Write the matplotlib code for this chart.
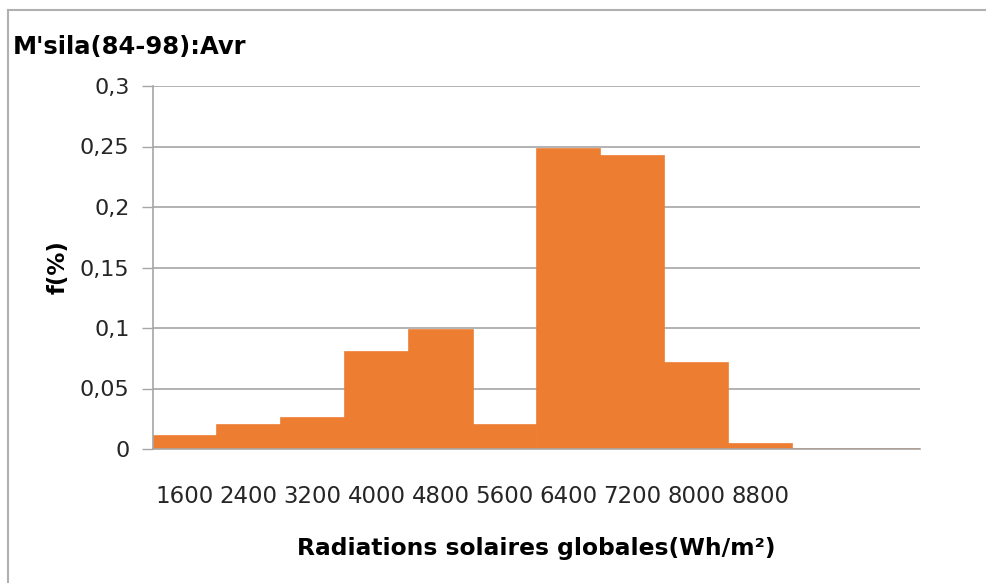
import matplotlib.pyplot as plt
from matplotlib.lines import Line2D

# Fréquences des radiations solaires globales, M'sila (84-98), avril
classes = ["1600", "2400", "3200", "4000", "4800", "5600", "6400", "7200", "8000", "8800", "", ""]
freq = [0.011, 0.020, 0.026, 0.080, 0.098, 0.020, 0.248, 0.242, 0.071, 0.004, 0, 0]
yticks = [0, 0.05, 0.1, 0.15, 0.2, 0.25, 0.3]
ytick_labels = ["0", "0,05", "0,1", "0,15", "0,2", "0,25", "0,3"]

W, H = 987, 583
fig = plt.figure(figsize=(W / 100, H / 100), dpi=100)
ax = fig.add_axes([153 / W, 1 - 449 / H, (920 - 153) / W, (449 - 86) / H])

x = range(len(classes))
ax.bar(x, freq, width=1.0, color="#ED7D31", edgecolor="#ED7D31", linewidth=1.2, zorder=3)

ax.set_xlim(-0.5, len(classes) - 0.5)
ax.set_ylim(0, 0.3)
ax.set_yticks(yticks)
ax.set_yticklabels(ytick_labels, fontsize=16, family="DejaVu Sans", color="#262626")
ax.set_xticks(list(x))
ax.set_xticklabels(classes, fontsize=16.5, family="DejaVu Sans", color="#262626")
ax.tick_params(axis="x", length=0, pad=26)
ax.tick_params(axis="y", length=8, width=1, color="#a6a6a6", pad=9)

ax.grid(axis="y", color="#a6a6a6", linewidth=1.2, zorder=0)
for side in ["top", "right"]:
    ax.spines[side].set_visible(False)
for side in ["left", "bottom"]:
    ax.spines[side].set_color("#a6a6a6")
    ax.spines[side].set_linewidth(1.2)
    ax.spines[side].set_zorder(4)

ax.set_ylabel("f(%)", fontsize=16.5, fontweight="bold", family="DejaVu Sans")
ax.yaxis.label.set_va("center")
ax.yaxis.set_label_coords(-95 / (920 - 153), 0.5)
ax.set_xlabel("Radiations solaires globales(Wh/m²)", fontsize=16.8, fontweight="bold",
              family="DejaVu Sans")
ax.xaxis.set_label_coords(0.5, -(548 - 449) / (449 - 86), transform=ax.transAxes)
ax.xaxis.label.set_va("center")

fig.text(13 / W, 1 - 47 / H, "M'sila(84-98):Avr", fontsize=17.5, fontweight="bold",
         family="DejaVu Sans", ha="left", va="center")

# cadre gris en haut et à gauche
fig.add_artist(Line2D([8 / W, 1], [1 - 10 / H, 1 - 10 / H], color="#b0b0b0", linewidth=1.5))
fig.add_artist(Line2D([8 / W, 8 / W], [0, 1 - 10 / H], color="#b0b0b0", linewidth=1.5))

fig.savefig("out.png", dpi=100)
